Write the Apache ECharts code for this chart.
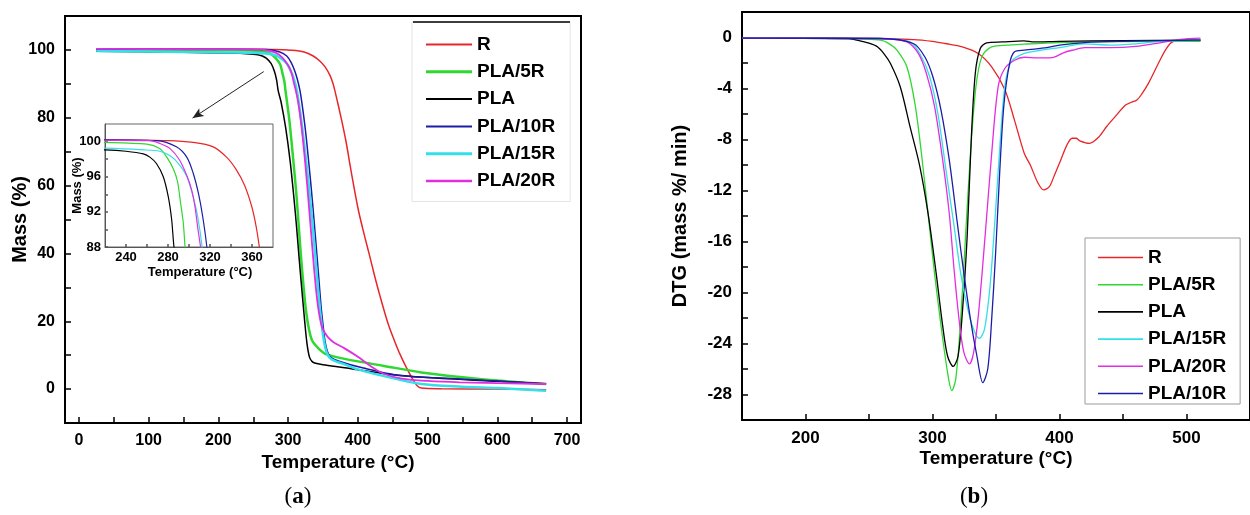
<!DOCTYPE html>
<html>
<head>
<meta charset="utf-8">
<script src="https://cdn.jsdelivr.net/npm/echarts@6/dist/echarts.min.js"></script>
<style>html,body{margin:0;background:#fff}#chart{width:1250px;height:515px}</style>
</head>
<body>
<div id="chart"></div>
<script>
// (a) TGA curves: [temperature °C, mass %]
var tgaR = [[25,100.3],[150,100.25],[220,100.2],[280,100.1],[304,99.9],[323,99.4],[336,98.2],[345,96.8],[353,95],[360,92.5],[364,90.3],[367,88],[372,83.6],[377,79],[383,73],[387.5,67.6],[392,62.3],[401,52.5],[410,44.8],[416,40],[423.5,33.8],[431,28],[443,19.5],[452,14.5],[461,10],[470,6.2],[479,2.8],[485,1],[491,0.3],[520,0.1],[600,0],[670,-0.2]];
var tga5R = [[25,100.1],[150,100],[220,99.9],[260,99.7],[272,99.2],[279,98.2],[285,96.9],[289,95.5],[292,93],[294.6,90.7],[296.2,88],[301.6,79.5],[306.7,69],[312,57],[315.2,48],[318.3,39.5],[322.2,30],[326,22.5],[330,17.5],[334,14.5],[339,13],[346,11.5],[354,10.3],[381,8.9],[436,6.9],[491,4.9],[550,3.5],[601,2.5],[670,1.5]];
var tgaPLA = [[25,99.6],[150,99.3],[220,99.06],[240,98.9],[256.5,98.6],[263,98.2],[269,97.5],[275.5,96],[280.3,93.7],[283.5,91.1],[285.7,88],[290,84.5],[296.5,77],[303,67],[308,57],[312,48],[316,38],[320,28.5],[323.5,20.5],[327,13.5],[330.5,9.5],[334,8.2],[338,7.7],[350,7.2],[381,6.3],[436,4.6],[500,3.4],[600,2.3],[670,1.6]];
var tga10R = [[25,100.2],[150,100.2],[220,100.2],[269,100.1],[288,99.4],[298,98.2],[304,96.4],[309,94.1],[313,91.5],[317,88],[320,84],[325,76],[330,66],[335,55],[339.5,44],[343.5,34],[347,25],[350,19],[353,14],[356.5,11],[361,9.4],[372,8.3],[408,6.2],[463,3.9],[546,3],[670,1.5]];
var tga15R = [[25,99.7],[150,99.4],[220,99.25],[256.5,99.06],[272,98.9],[282,98.4],[290,97.5],[298,96],[304,93.7],[308.2,91.5],[312.5,88],[317,82],[322,74],[327,65],[332,55],[337,44],[341,34],[345,25],[349,17.5],[353,12.5],[357,10],[362,8.8],[372,7.9],[381,7.3],[400,5.8],[436,3.9],[491,1.5],[550,0.7],[601,0.3],[670,-0.5]];
var tga20R = [[25,100.3],[150,100.2],[220,100.15],[263,100.1],[272,99.8],[282,99.2],[291,97.9],[298,96.1],[302.5,94.5],[305.7,92.6],[308.2,90.3],[311,88],[314,85],[317,81],[321,74],[325,65.5],[329,56],[333,46],[337,36],[341,27.5],[345,21.5],[349,18],[353,16.5],[357,15.3],[365,13.8],[381,12],[400,9.5],[420,6.5],[436,4.6],[463,3.1],[500,2.4],[546,2],[670,1.5]];

// (b) DTG curves: [temperature °C, mass %/min]
var dtgR = [[150,-0.05],[250,-0.08],[285,-0.16],[300,-0.3],[310,-0.47],[323.5,-0.73],[336,-1.25],[346.6,-2.3],[357,-4.1],[364.6,-6.5],[372.3,-9.1],[377,-10],[383,-11.4],[387.5,-11.95],[392,-11.7],[396,-10.8],[401,-9.6],[406,-8.4],[410,-7.9],[413,-7.9],[416,-8.1],[423.5,-8.3],[431,-7.8],[437,-7],[443,-6.3],[452,-5.3],[456,-5.1],[461,-4.9],[465,-4.4],[470,-3.6],[479,-1.8],[484,-0.9],[488,-0.4],[494,-0.2],[511,-0.2]];
var dtg5R = [[150,-0.05],[233.5,-0.08],[259.2,-0.21],[266,-0.5],[272,-0.99],[279.8,-2.3],[286.2,-5.2],[291.3,-9.1],[296.5,-13.8],[301.6,-18.5],[306.7,-22.6],[311.9,-26.3],[315.2,-27.7],[318.3,-26.8],[322.2,-22.1],[326,-15.6],[329.9,-9.1],[334.2,-3.86],[338.9,-1.5],[346.6,-0.73],[360,-0.6],[372.3,-0.52],[400,-0.4],[450,-0.32],[511,-0.3]];
var dtgPLA = [[150,-0.05],[233.5,-0.08],[240,-0.2],[250,-0.45],[256.6,-0.73],[262,-1.3],[266.9,-2.04],[274.6,-3.86],[282.3,-6.99],[290,-10.1],[296.5,-13.8],[302.9,-18.5],[308,-22.6],[311.9,-25],[316.3,-25.8],[320.1,-25],[323.5,-21.6],[327.3,-15.6],[330.6,-7.8],[333.7,-2.8],[337.6,-0.86],[342.7,-0.42],[355,-0.35],[372,-0.26],[380,-0.35],[400,-0.3],[450,-0.25],[511,-0.2]];
var dtg15R = [[150,-0.05],[259.2,-0.08],[282.3,-0.34],[291.3,-1.51],[297.8,-3.08],[304.2,-5.95],[310.6,-10.4],[317,-14.8],[322.2,-18.5],[327.3,-21.1],[332.4,-22.9],[336.8,-23.6],[340.9,-22.9],[345.3,-19.5],[349.2,-14.3],[353,-8.6],[356.9,-3.86],[362,-1.9],[372.3,-1.25],[385,-1],[400,-0.8],[420,-0.5],[440,-0.6],[460,-0.5],[480,-0.3],[511,-0.2]];
var dtg20R = [[150,-0.05],[259.2,-0.08],[279.8,-0.34],[288.8,-1.25],[295.2,-2.82],[301.6,-5.4],[308,-9.6],[313.2,-13.8],[317,-18.2],[320.9,-22.1],[324.7,-24.7],[329.1,-25.6],[332.4,-24.7],[336.3,-21.6],[341.4,-15.6],[346.6,-9.1],[351.7,-3.86],[356.9,-2.43],[364.6,-1.78],[372.3,-1.55],[383,-1.6],[392,-1.6],[397,-1.5],[403,-1.2],[410,-1],[420,-0.8],[440,-0.8],[460,-0.7],[480,-0.4],[495,-0.15],[511,-0.05]];
var dtg10R = [[150,-0.05],[259.2,-0.08],[284.9,-0.47],[293.9,-1.51],[300.3,-3.08],[306.7,-5.69],[313.2,-9.6],[319.6,-14.6],[324.7,-18.5],[329.9,-22.1],[335,-25],[339.6,-27.07],[343.5,-26],[346.6,-22.1],[349.7,-16.9],[353,-10.4],[356.3,-5.2],[360.7,-2.04],[364.6,-1.12],[372.3,-0.99],[390,-0.8],[400,-0.6],[420,-0.4],[450,-0.3],[480,-0.25],[511,-0.2]];

// tick marks and tick labels
var tgaXTicks = [0,50,100,150,200,250,300,350,400,450,500,550,600,650,700];
var tgaXLabels = [0,100,200,300,400,500,600,700];
var tgaYTicks = [0,10,20,30,40,50,60,70,80,90,100];
var tgaYLabels = [0,20,40,60,80,100];
var insetXTicks = [240,260,280,300,320,340,360];
var insetXLabels = [240,280,320,360];
var insetYTicks = [88,90,92,94,96,98,100];
var insetYLabels = [88,92,96,100];
var dtgXTicks = [200,250,300,350,400,450,500];
var dtgXLabels = [200,300,400,500];
var dtgYTicks = [-28,-26,-24,-22,-20,-18,-16,-14,-12,-10,-8,-6,-4,-2,0];
var dtgYLabels = [-28,-24,-20,-16,-12,-8,-4,0];

// arrow pointing at the zoomed region
var arrowFrom = [265, 93.6];
var arrowTo = [163, 79.9];

var font = 'Liberation Sans, Arial, sans-serif';
var colors = {'R':'#e8262a','PLA/5R':'#2fd82f','PLA':'#000000','PLA/10R':'#1c1ca8','PLA/15R':'#33dfe8','PLA/20R':'#e02ee0'};
var tgaWidth = {'R':1.5,'PLA/5R':2.5,'PLA':1.5,'PLA/10R':1.5,'PLA/15R':2.5,'PLA/20R':1.8};
var tgaData = {'R':tgaR,'PLA/5R':tga5R,'PLA':tgaPLA,'PLA/10R':tga10R,'PLA/15R':tga15R,'PLA/20R':tga20R};
var dtgData = {'R':dtgR,'PLA/5R':dtg5R,'PLA':dtgPLA,'PLA/15R':dtg15R,'PLA/20R':dtg20R,'PLA/10R':dtg10R};
var leftOrder = ['R','PLA/5R','PLA','PLA/10R','PLA/15R','PLA/20R'];
var rightOrder = ['R','PLA/5R','PLA','PLA/15R','PLA/20R','PLA/10R'];

// legend icon: a plain horizontal bar of the given thickness
function barIcon(w) {
    return 'path://M0,0h46v' + w + 'h-46z';
}

function axis(grid, min, max, ticks, labels, o) {
    return {
        type: 'value', gridIndex: grid, min: min, max: max,
        splitLine: {show: false},
        axisLine: {onZero: false, lineStyle: {color: o.lineColor || '#000', width: o.lineWidth || 2}},
        axisTick: {inside: true, length: o.tickLen || 6, customValues: ticks, lineStyle: {color: o.lineColor || '#000', width: 1.5}},
        axisLabel: {customValues: labels, color: '#000', fontFamily: font, fontWeight: 'bold', fontSize: o.fontSize, margin: o.margin || 10},
        name: o.name, nameLocation: 'middle', nameGap: o.nameGap, nameMoveOverlap: false,
        nameTextStyle: {color: '#000', fontFamily: font, fontWeight: 'bold', fontSize: o.nameSize, padding: o.namePad || 0}
    };
}

var chart = echarts.init(document.getElementById('chart'), null, {renderer: 'canvas'});

var series = [];
leftOrder.forEach(function (n) {
    var s = {
        name: n, type: 'line', xAxisIndex: 0, yAxisIndex: 0, data: tgaData[n],
        symbol: 'none', smooth: 0.3, z: 3,
        lineStyle: {color: colors[n], width: tgaWidth[n]}, itemStyle: {color: colors[n]}
    };
    if (n === 'PLA') {
        s.markLine = {
            silent: true, symbol: ['none', 'arrow'], symbolSize: [7, 11],
            lineStyle: {color: '#222', width: 1, type: 'solid'}, label: {show: false},
            data: [[{coord: arrowFrom}, {coord: arrowTo}]]
        };
    }
    series.push(s);
    series.push({
        name: n, type: 'line', xAxisIndex: 2, yAxisIndex: 2, data: tgaData[n],
        symbol: 'none', smooth: 0.3, z: 20,
        lineStyle: {color: colors[n], width: 1.2}, itemStyle: {color: colors[n]}
    });
});
rightOrder.forEach(function (n) {
    series.push({
        name: n, type: 'line', xAxisIndex: 1, yAxisIndex: 1, data: dtgData[n],
        symbol: 'none', smooth: 0.3,
        lineStyle: {color: colors[n], width: 1.3}, itemStyle: {color: colors[n]}
    });
});

chart.setOption({
    backgroundColor: '#fff',
    animation: false,
    grid: [
        {left: 65, top: 16, width: 516, height: 407, show: true, borderColor: '#000', borderWidth: 2},
        {left: 742, top: 12, width: 519, height: 408, show: true, borderColor: '#000', borderWidth: 2},
        {left: 105, top: 124, width: 168, height: 123, show: true, borderColor: '#666', borderWidth: 1}
    ],
    legend: [
        {
            orient: 'vertical', left: 412, top: 22, itemWidth: 46, itemHeight: 14, itemGap: 8.3,
            padding: [13, 15, 11, 14], backgroundColor: '#fff', borderColor: '#e4e4e4', borderWidth: 1,
            textStyle: {color: '#000', fontFamily: font, fontWeight: 'bold', fontSize: 19, lineHeight: 16},
            data: leftOrder.map(function (n) { return {name: n, icon: barIcon(tgaWidth[n] + 0.5)}; })
        },
        {
            orient: 'vertical', left: 1085, top: 238, itemWidth: 45, itemHeight: 14, itemGap: 8.2,
            padding: [10, 14, 1, 13], backgroundColor: '#fff', borderColor: '#999', borderWidth: 1,
            textStyle: {color: '#000', fontFamily: font, fontWeight: 'bold', fontSize: 19, lineHeight: 16},
            data: rightOrder.map(function (n) { return {name: n, icon: barIcon(1.6)}; })
        }
    ],
    xAxis: [
        axis(0, -20, 720, tgaXTicks, tgaXLabels, {fontSize: 16, name: 'Temperature (°C)', nameGap: 30, nameSize: 19, namePad: [0, 0, 0, 30]}),
        axis(1, 150, 550, dtgXTicks, dtgXLabels, {fontSize: 17, name: 'Temperature (°C)', nameGap: 29, nameSize: 19}),
        axis(2, 220, 380, insetXTicks, insetXLabels, {fontSize: 13, margin: 4, tickLen: 3, lineWidth: 1, lineColor: '#555', name: 'Temperature (°C)', nameGap: 19, nameSize: 13, namePad: [0, 0, 0, 22]})
    ],
    yAxis: [
        axis(0, -10, 110, tgaYTicks, tgaYLabels, {fontSize: 16, name: 'Mass (%)', nameGap: 35, nameSize: 20}),
        axis(1, -30, 2, dtgYTicks, dtgYLabels, {fontSize: 17, name: 'DTG (mass %/ min)', nameGap: 52, nameSize: 20}),
        axis(2, 88, 102, insetYTicks, insetYLabels, {fontSize: 13, margin: 4, tickLen: 3, lineWidth: 1, lineColor: '#555', name: 'Mass (%)', nameGap: 21, nameSize: 13})
    ],
    graphic: [
        {type: 'line', shape: {x1: 413, y1: 22, x2: 570, y2: 22}, style: {stroke: '#000', lineWidth: 1.5}, z: 100},
        {type: 'text', x: 298, y: 497, style: {text: '{p|(}{b|a}{p|)}', rich: {p: {fontFamily: 'Liberation Serif', fontSize: 23, fill: '#000'}, b: {fontFamily: 'Liberation Serif', fontSize: 23, fontWeight: 'bold', fill: '#000'}}, align: 'center', verticalAlign: 'middle'}},
        {type: 'text', x: 974, y: 497, style: {text: '{p|(}{b|b}{p|)}', rich: {p: {fontFamily: 'Liberation Serif', fontSize: 23, fill: '#000'}, b: {fontFamily: 'Liberation Serif', fontSize: 23, fontWeight: 'bold', fill: '#000'}}, align: 'center', verticalAlign: 'middle'}}
    ],
    series: series
});
</script>
</body>
</html>
